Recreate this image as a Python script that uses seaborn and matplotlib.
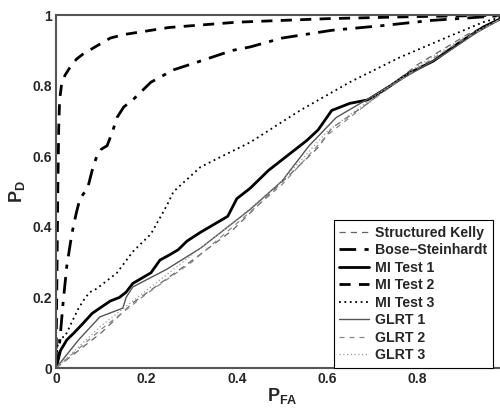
import matplotlib.pyplot as plt
import seaborn as sns
import numpy as np
import pandas as pd

# data
kelly_x = [0, 0.1, 0.17, 0.28, 0.39, 0.47, 0.58, 0.61, 0.69, 0.8, 0.91, 1.0]
kelly_y = [0, 0.1, 0.185, 0.285, 0.39, 0.49, 0.625, 0.68, 0.75, 0.86, 0.945, 1.0]

bose_x = [0, 0.005, 0.01, 0.016, 0.024, 0.035, 0.045, 0.053, 0.07, 0.08, 0.09, 0.1,
          0.113, 0.125, 0.135, 0.15, 0.17, 0.21, 0.26, 0.32, 0.39, 0.43, 0.5, 0.61,
          0.72, 0.83, 0.945, 1.0]
bose_y = [0, 0.03, 0.1, 0.19, 0.29, 0.38, 0.44, 0.48, 0.51, 0.56, 0.6, 0.62,
          0.63, 0.67, 0.71, 0.74, 0.76, 0.81, 0.845, 0.87, 0.9, 0.91, 0.935, 0.957,
          0.97, 0.985, 0.995, 1.0]

mi1_x = [0, 0.003, 0.01, 0.024, 0.04, 0.06, 0.08, 0.097, 0.12, 0.14, 0.155, 0.17,
         0.19, 0.21, 0.23, 0.25, 0.27, 0.29, 0.32, 0.34, 0.38, 0.4, 0.43, 0.47,
         0.52, 0.555, 0.58, 0.61, 0.65, 0.69, 0.74, 0.78, 0.835, 0.89, 0.945, 1.0]
mi1_y = [0, 0.015, 0.05, 0.08, 0.1, 0.127, 0.155, 0.17, 0.19, 0.2, 0.215, 0.24,
         0.255, 0.27, 0.306, 0.32, 0.335, 0.36, 0.385, 0.4, 0.43, 0.48, 0.51, 0.56,
         0.61, 0.645, 0.675, 0.73, 0.75, 0.76, 0.8, 0.835, 0.87, 0.92, 0.966, 1.0]

mi2_x = [0, 0.002, 0.004, 0.006, 0.008, 0.012, 0.02, 0.03, 0.045, 0.06, 0.08, 0.1,
         0.12, 0.15, 0.2, 0.25, 0.3, 0.35, 0.4, 0.5, 0.6, 0.7, 0.8, 0.9, 1.0]
mi2_y = [0, 0.25, 0.5, 0.68, 0.76, 0.8, 0.83, 0.85, 0.875, 0.89, 0.905, 0.92,
         0.935, 0.945, 0.955, 0.965, 0.97, 0.975, 0.98, 0.985, 0.99, 0.993, 0.996, 0.998, 1.0]

mi3_x = [0, 0.004, 0.01, 0.02, 0.035, 0.05, 0.065, 0.075, 0.09, 0.135, 0.17, 0.21,
         0.245, 0.26, 0.32, 0.43, 0.54, 0.65, 0.76, 0.87, 0.945, 1.0]
mi3_y = [0, 0.07, 0.085, 0.09, 0.13, 0.17, 0.2, 0.215, 0.225, 0.27, 0.33, 0.38,
         0.46, 0.5, 0.57, 0.64, 0.73, 0.81, 0.88, 0.94, 0.98, 1.0]

glrt1_x = [0, 0.05, 0.097, 0.148, 0.155, 0.17, 0.245, 0.32, 0.39, 0.43, 0.5, 0.56,
           0.62, 0.7, 0.78, 0.86, 0.93, 1.0]
glrt1_y = [0, 0.08, 0.145, 0.17, 0.2, 0.23, 0.28, 0.34, 0.41, 0.45, 0.53, 0.63,
           0.71, 0.77, 0.83, 0.89, 0.95, 1.0]

glrt2_x = [0, 0.1, 0.2, 0.3, 0.4, 0.5, 0.6, 0.7, 0.8, 0.9, 1.0]
glrt2_y = [0, 0.11, 0.21, 0.3, 0.41, 0.52, 0.66, 0.76, 0.85, 0.93, 1.0]

glrt3_x = [0, 0.1, 0.2, 0.3, 0.4, 0.5, 0.6, 0.7, 0.8, 0.9, 1.0]
glrt3_y = [0, 0.12, 0.22, 0.32, 0.42, 0.53, 0.67, 0.765, 0.855, 0.935, 1.0]

x_ticks = [0, 0.2, 0.4, 0.6, 0.8]
x_labels = ["0", "0.2", "0.4", "0.6", "0.8"]
y_ticks = [0, 0.2, 0.4, 0.6, 0.8, 1.0]
y_labels = ["0", "0.2", "0.4", "0.6", "0.8", "1"]

sns.set_style("white")
plt.rcParams['font.family'] = ['Liberation Sans', 'DejaVu Sans']
plt.rcParams['font.weight'] = 'bold'
plt.rcParams['mathtext.fontset'] = 'custom'
plt.rcParams['mathtext.bf'] = 'Liberation Sans:bold'
plt.rcParams['mathtext.rm'] = 'Liberation Sans:bold'

fig = plt.figure(figsize=(5, 4.09), dpi=100)
ax = fig.add_axes([0.112, 0.10, 0.904, 0.863])

series = [
    ("Structured Kelly", kelly_x, kelly_y, dict(color="#666666", lw=0.9, ls=(0, (5, 4)))),
    ("Bose\u2013Steinhardt", bose_x, bose_y, dict(color="black", lw=2.0, ls=(0, (6, 3, 1.5, 3)))),
    ("MI Test 1", mi1_x, mi1_y, dict(color="black", lw=2.0, ls="-")),
    ("MI Test 2", mi2_x, mi2_y, dict(color="black", lw=2.0, ls=(0, (4, 3)))),
    ("MI Test 3", mi3_x, mi3_y, dict(color="black", lw=1.3, ls=(0, (1, 2)))),
    ("GLRT 1", glrt1_x, glrt1_y, dict(color="#555555", lw=1.0, ls="-")),
    ("GLRT 2", glrt2_x, glrt2_y, dict(color="#888888", lw=0.9, ls=(0, (4, 4)))),
    ("GLRT 3", glrt3_x, glrt3_y, dict(color="#999999", lw=0.9, ls=(0, (1, 2)))),
]

for name, xs, ys, st in series:
    df = pd.DataFrame({"x": xs, "y": ys})
    sns.lineplot(data=df, x="x", y="y", ax=ax, sort=False, estimator=None,
                 label=name, color=st["color"], linewidth=st["lw"], linestyle=st["ls"])

ax.set_xlim(0, 1)
ax.set_ylim(0, 1)
ax.set_xticks(x_ticks)
ax.set_xticklabels(x_labels)
ax.set_yticks(y_ticks)
ax.set_yticklabels(y_labels)
ax.tick_params(direction="in", length=4, width=0.8, labelsize=10, pad=3, color="#333333")
for s in ax.spines.values():
    s.set_color("#555555")
    s.set_linewidth(1.5)

ax.set_xlabel(r"$\mathbf{P_{FA}}$", fontsize=13, labelpad=0)
ax.set_ylabel(r"$\mathbf{P_{D}}$", fontsize=13, labelpad=4)

leg = ax.legend(loc="lower right", bbox_to_anchor=(0.967, 0.0), borderaxespad=0,
                fontsize=10.2, frameon=True, fancybox=False, framealpha=1,
                edgecolor="black", handlelength=2.1, handletextpad=0.45,
                labelspacing=0.25, borderpad=0.4)
leg.get_frame().set_linewidth(0.8)
for t in leg.get_texts():
    t.set_fontweight("bold")

fig.savefig("out.png", dpi=100)
